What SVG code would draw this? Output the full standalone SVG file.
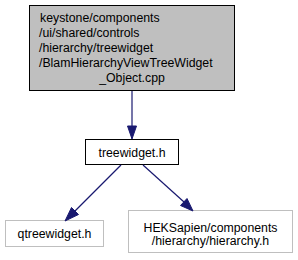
<svg xmlns="http://www.w3.org/2000/svg" width="298" height="260" viewBox="0 0 298 260">
<style>
text{font-family:"Liberation Sans",Arial,sans-serif;font-size:12.3px;fill:#000}
.c{text-anchor:middle}
.e{stroke:#191970;stroke-width:1.2;fill:none}
.h{fill:#191970;stroke:#191970}
</style>
<rect width="298" height="260" fill="#fff"/>
<g id="node1">
<rect x="29.5" y="5.5" width="205" height="85" fill="#bfbfbf" stroke="#000"/>
<text x="40" y="21.5">keystone/components</text>
<text x="39" y="36.5">/ui/shared/controls</text>
<text x="39" y="51.5">/hierarchy/treewidget</text>
<text x="39" y="66.5">/BlamHierarchyViewTreeWidget</text>
<text x="132" y="81.5" class="c">_Object.cpp</text>
</g>
<g id="node2">
<rect x="85.5" y="139.5" width="93" height="25" fill="#fff" stroke="#000"/>
<text x="132" y="156.5" class="c">treewidget.h</text>
</g>
<g id="node3">
<rect x="5.5" y="220.5" width="98" height="26" fill="#fff" stroke="#bfbfbf"/>
<text x="54.5" y="237.5" class="c">qtreewidget.h</text>
</g>
<g id="node4">
<rect x="128.5" y="210.5" width="164" height="42" fill="#fff" stroke="#bfbfbf"/>
<text x="210.5" y="231.5" class="c">HEKSapien/components</text>
<text x="210.5" y="244.5" class="c">/hierarchy/hierarchy.h</text>
</g>
<g id="edges">
<path class="e" d="M132,91 L132,126"/>
<path class="h" d="M127.5,126 L132,139 L136.5,126 Z"/>
<path class="e" d="M121,165 L75,211"/>
<path class="h" d="M71.5,207.5 L65,221 L78.5,214.5 Z"/>
<path class="e" d="M143,165 L184,202"/>
<path class="h" d="M180.5,205.5 L193,211 L187,198.5 Z"/>
</g>
</svg>
